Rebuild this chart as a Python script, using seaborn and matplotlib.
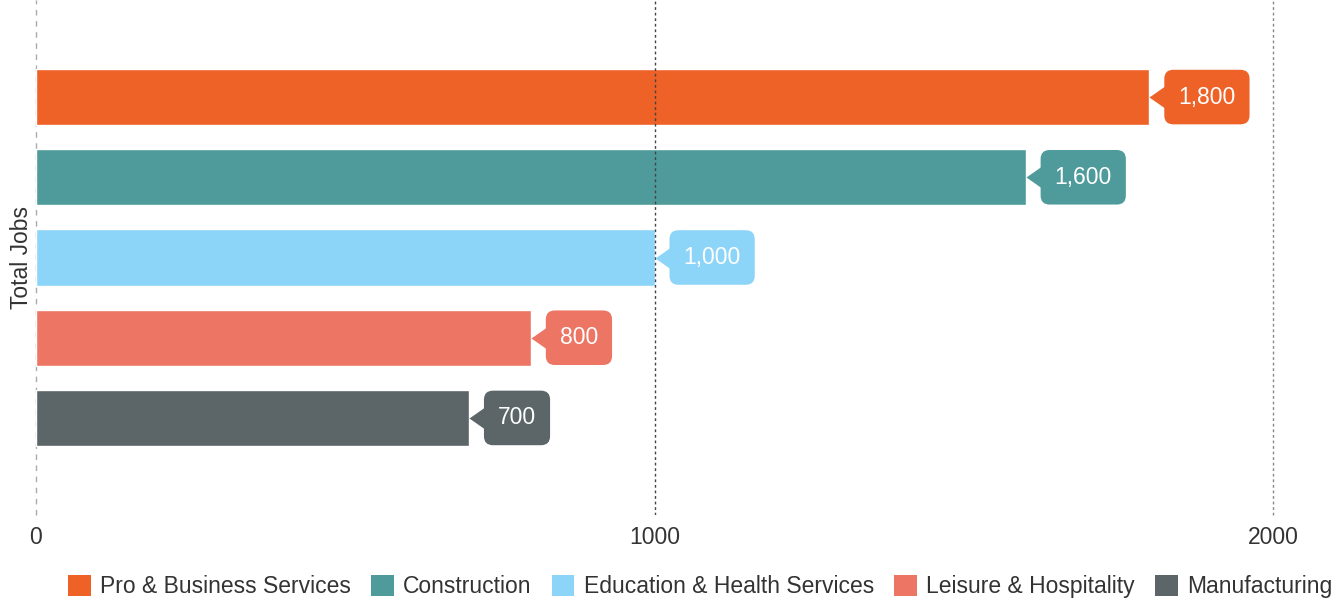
import numpy as np
import pandas as pd
import seaborn as sns
import matplotlib.pyplot as plt
from matplotlib.patches import Patch, FancyBboxPatch

# data
sectors = ['Pro & Business Services', 'Construction', 'Education & Health Services',
           'Leisure & Hospitality', 'Manufacturing']
jobs = [1800, 1600, 1000, 800, 700]
colors = ['#EE6127', '#4F9B9B', '#8DD5F8', '#EC7564', '#5C6669']
xticks = [0, 1000, 2000]

df = pd.DataFrame({'sector': sectors, 'jobs': jobs})

sns.set_theme(style='white')
plt.rcParams['font.family'] = ['Liberation Sans', 'DejaVu Sans']

fig = plt.figure(figsize=(13.37, 6), dpi=100)
ax = fig.add_axes([36/1337, 1-515/600, (1273-36)/1337, 515/600])

sns.barplot(data=df, x='jobs', y='sector', hue='sector', palette=colors,
            order=sectors, hue_order=sectors, width=0.7, dodge=False,
            saturation=1, legend=False, ax=ax)

ax.set_xlim(0, 2000)
ax.set_ylim(5.21, -1.21)
ax.set_xticks(xticks)
ax.set_xticklabels([str(t) for t in xticks], fontsize=16.5, color='#333333')
ax.set_yticks([])
ax.tick_params(axis='x', length=0, pad=8)
ax.set_xlabel('')
ax.set_ylabel('Total Jobs', fontsize=16.5, color='#333333', labelpad=2)
for s in ax.spines.values():
    s.set_visible(False)

# vertical grid lines
ax.axvline(0, color='#AAAAAA', lw=1, ls=(0, (4, 4)), zorder=0, clip_on=False)
ax.axvline(1000, color='#444444', lw=1, ls=(0, (2, 2)), zorder=3)
ax.axvline(2000, color='#888888', lw=1, ls=(0, (2, 2)), zorder=0, clip_on=False)

# pixel -> data scale factors
fig.canvas.draw()
bb = ax.get_window_extent()
xu = 2000 / bb.width           # data units per pixel (x)
yu = 6.42 / bb.height          # data units per pixel (y)

# callout labels at bar ends
tri = [(0, 0), (1, -0.7), (1, 0.7), (0, 0)]
renderer = fig.canvas.get_renderer()
for i, (v, c) in enumerate(zip(jobs, colors)):
    ax.plot([v], [i], marker=tri, markersize=29, color=c, mec='none', zorder=4)
    t = ax.text(v + 29 * xu, i, f'{v:,}', ha='left', va='center', fontsize=16.5,
                color='white', zorder=6)
    tw = t.get_window_extent(renderer).width
    x0 = v + 15 * xu
    w = (tw + 28) * xu
    box = FancyBboxPatch((x0, i - 0.34), w, 0.68,
                         boxstyle=f'round,pad=0,rounding_size={9 * xu}',
                         mutation_aspect=yu / xu, fc=c, ec='none', zorder=5)
    ax.add_patch(box)

handles = [Patch(facecolor=c, edgecolor='none') for c in colors]
fig.legend(handles, sectors, loc='center', bbox_to_anchor=(0.5235, 0.022), ncol=5,
           frameon=False, fontsize=16.5, handlelength=1.0, handleheight=1.0,
           handletextpad=0.4, columnspacing=0.88, labelcolor='#333333')

fig.savefig('out.png', dpi=100)
